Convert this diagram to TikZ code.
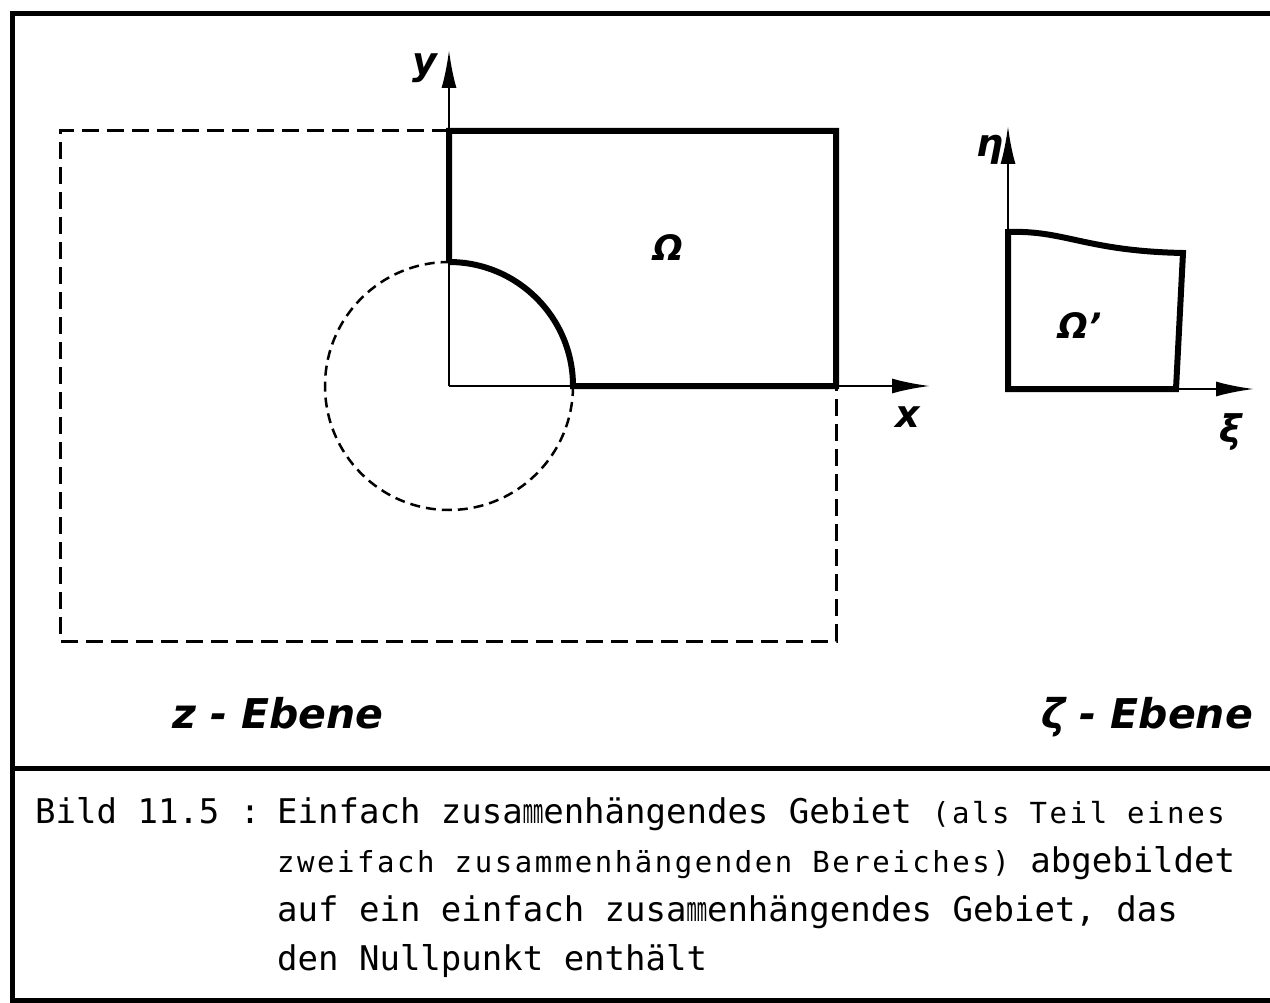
\documentclass[tikz,border=0pt]{standalone}
\usepackage{fontspec}
\usepackage{graphicx}
\usepackage{tikz}
\usetikzlibrary{arrows.meta}
\newfontfamily\labfont{DejaVu Sans}
\newfontfamily\capfont{DejaVu Sans Mono}
\newfontfamily\capsmallfont[LetterSpace=8.8]{DejaVu Sans Mono}
\newcommand{\mmcell}{\makebox[0.602em][c]{\scalebox{0.5}[1]{mm}}}
\newcommand{\klein}{\capsmallfont\fontsize{29}{40}\selectfont}
\tikzset{
  frame/.style={line width=5pt},
  rim/.style={line width=6pt,line join=miter},
  axis/.style={line width=2.5pt,-{Latex[length=38pt,width=15pt]}},
  hilf/.style={line width=3pt,dash pattern=on 17pt off 8pt},
  kreis/.style={line width=2.5pt,dash pattern=on 10pt off 6pt},
  lab/.style={font=\labfont\bfseries\itshape\fontsize{38}{38}\selectfont,inner sep=0pt},
  ebene/.style={font=\labfont\bfseries\itshape\fontsize{41}{41}\selectfont,inner sep=0pt},
  zeile/.style={font=\capfont\fontsize{34}{40}\selectfont,anchor=base west,inner sep=0pt}
}
\begin{document}
\begin{tikzpicture}[x=1pt,y=-1pt]
  \useasboundingbox (0,0) rectangle (1270,1003);
  % Rahmen
  \draw[frame] (1270,14) -- (12,14) -- (12,1000) -- (1270,1000);
  \draw[frame] (12,768) -- (1270,768);
  % z-Ebene
  \coordinate (O) at (449,386);
  \coordinate (xend) at (930,386);
  \coordinate (yend) at (449,50);
  \draw[hilf] (449,131) -- (60,131) -- (60,641) -- (836,641) -- (836,386);
  \draw[kreis] (O) ++(124,0) arc[start angle=0,end angle=270,radius=124];
  \draw[axis] (O) -- (xend);
  \draw[axis] (O) -- (yend);
  \draw[rim] (449,262) -- (449,131) -- (836,131) -- (836,386) -- (573,386)
    arc[start angle=0,end angle=-90,radius=124];
  \node[lab] (ylab) at (425,68) {y};
  \node[lab] (xlab) at (908,417) {x};
  \node[lab,font=\labfont\bfseries\itshape\fontsize{35}{35}\selectfont] (om) at (668,248) {Ω};
  \node[ebene] (zeb) at (278,713) {z - Ebene};
  % zeta-Ebene
  \coordinate (P) at (1008,389);
  \coordinate (xiend) at (1254,389);
  \coordinate (etaend) at (1008,126);
  \draw[axis] (P) -- (xiend);
  \draw[axis] (P) -- (etaend);
  \draw[rim] (1008,389) -- (1008,232) .. controls (1065,230) and (1085,251) .. (1183,253)
    -- (1176,389) -- cycle;
  \node[lab] (etalab) at (990,150) {η};
  \node[lab] (xilab) at (1231,432) {ξ};
  \node[lab,font=\labfont\bfseries\itshape\fontsize{35}{35}\selectfont] (om2) at (1080,326) {Ω’};
  \node[ebene] (zetaeb) at (1147,717) {ζ - Ebene};
  % Unterschrift
  \node[zeile] (bild) at (35,823) {Bild 11.5 :};
  \node[zeile] (z1) at (277,823) {Einfach zusa\mmcell enhängendes Gebiet {\klein(als Teil eines}};
  \node[zeile] (z2) at (277,872) {{\klein zweifach zusammenhängenden Bereiches)} abgebildet};
  \node[zeile] (z3) at (277,921) {auf ein einfach zusa\mmcell enhängendes Gebiet, das};
  \node[zeile] (z4) at (277,970) {den Nullpunkt enthält};
\end{tikzpicture}
\end{document}
